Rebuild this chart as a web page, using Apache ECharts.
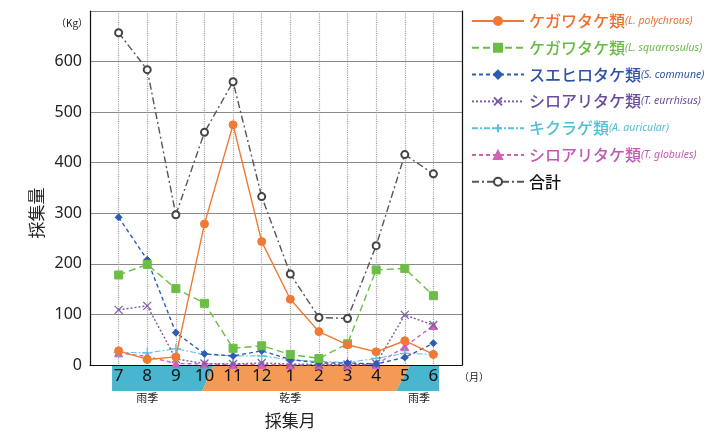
<!DOCTYPE html>
<html><head><meta charset="utf-8">
<script src="https://cdn.jsdelivr.net/npm/echarts@6/dist/echarts.min.js"></script>
<style>html,body{margin:0;padding:0;background:#fff}#c{width:713px;height:432px}</style>
</head><body><div id="c"></div>
<script>
const months = ['7','8','9','10','11','12','1','2','3','4','5','6'];
const yTicks = [0,100,200,300,400,500,600];
const seriesNames = ['ケガワタケ類(L. polychrous)','ケガワタケ類(L. squarrosulus)','スエヒロタケ類(S. commune)','シロアリタケ類(T. eurrhisus)','キクラゲ類(A. auricular)','シロアリタケ類(T. globules)','合計'];
const polychrous  = [28, 11, 16, 279, 475, 244, 130, 66, 40, 26, 48, 21];
const squarrosulus= [178, 199, 151, 122, 33, 38, 21, 13, 42, 188, 191, 137];
const commune     = [292, 208, 64, 22, 18, 28, 11, 4, 4, 2, 15, 43];
const eurrhisus   = [109, 117, 12, 3, 2, 4, 2, 1, 1, 3, 99, 79];
const auricular   = [25, 24, 32, 21, 18, 18, 10, 7, 5, 13, 23, 21];
const globules    = [24, 17, 3, 2, 1, 1, 0, 0, 0, 1, 36, 78];
const total       = [657, 584, 297, 460, 560, 333, 180, 94, 92, 236, 416, 378];
const seasons = ['雨季','乾季','雨季'];

const colors = ['#F07A35','#6CBD45','#2F5CB3','#7D5BA8','#55C2DD','#D062B6','#555555'];
const textColors = ['#EE6F2D','#6AB947','#2E52A6','#6A4C9C','#52BDD6','#C05BB3','#111111'];
const markers = ['circle','rect','diamond','emptyCircle','emptyCircle','triangle','emptyCircle'];
const dataSets = [polychrous, squarrosulus, commune, eurrhisus, auricular, globules, total];

const cats = [''].concat(months).concat(['']);
const pad = a => [null].concat(a).concat([null]);

const lineTypes = ['solid',[7,4],[4,3],[2,2],[6,2,2,2],[4,3],[7,3,2,3]];
const symbolSizes = [8,8,7,8,10,8,7];

const series = dataSets.map((d,i)=>{
  const s = {
    name: seriesNames[i], type:'line', data: pad(d),
    symbol: markers[i], symbolSize: symbolSizes[i], showSymbol:true,
    lineStyle:{color:colors[i], width: i===4?1:1.4, type: lineTypes[i]},
    itemStyle:{color: colors[i], borderColor: colors[i], borderWidth:1},
    connectNulls:false, z: 10-i
  };
  if (i===6) { s.itemStyle = {color:'#444', borderColor:'#444', borderWidth:1}; }
  if (i===3) { s.symbol = 'path://M0,0L10,10M10,0L0,10'; s.itemStyle = {color:'none', borderColor:colors[i], borderWidth:1.2}; }
  if (i===4) { s.symbol = 'path://M5,0L5,10M0,5L10,5'; s.itemStyle = {color:'none', borderColor:colors[i], borderWidth:1.2}; }
  return s;
});

const rich = {};
textColors.forEach((c,i)=>{
  rich['a'+i] = {color:c, fontSize:16, fontFamily:'Noto Sans CJK JP', fontWeight:500};
  rich['b'+i] = {color:c, fontSize:10.5, fontStyle:'italic', fontFamily:'Noto Sans'};
});

const chart = echarts.init(document.getElementById('c'));
chart.setOption({
  animation:false,
  backgroundColor:'#fff',
  grid:{left:90, right:251, top:11, bottom:67, containLabel:false},
  legend:{
    orient:'vertical', left:466, top:8, itemGap:10.8, itemWidth:52, itemHeight:10,
    data: seriesNames.map((n,i)=>({name:n})),
    formatter: name => {
      const i = seriesNames.indexOf(name);
      const p = name.indexOf('(');
      if (p<0) return '{a'+i+'|'+name+'}';
      return '{a'+i+'|'+name.slice(0,p)+'}{b'+i+'|'+name.slice(p)+'}';
    },
    textStyle:{rich}
  },
  xAxis:{
    type:'category', data:cats, boundaryGap:false,
    axisLine:{lineStyle:{color:'#111', width:1.2}},
    axisTick:{show:false},
    axisLabel:{interval:0, color:'#111', fontSize:17, margin:3, fontFamily:'Noto Sans'},
    splitLine:{show:true, lineStyle:{color:'#999', type:[1,1.2], width:1.2}}
  },
  yAxis:[{
    type:'value', min:0, max:700, interval:100,
    axisLine:{show:true, lineStyle:{color:'#111', width:1.2}},
    axisTick:{show:false},
    axisLabel:{color:'#222', fontSize:16, margin:8, fontFamily:'Noto Sans', formatter:v=> v===700?'':v},
    splitLine:{lineStyle:{color:'#8a8a8a', width:1}}
  },{
    type:'value', min:0, max:700, interval:100, position:'right',
    axisLine:{show:true, lineStyle:{color:'#111', width:1.2}},
    axisTick:{show:false}, axisLabel:{show:false}, splitLine:{show:false}
  }],
  series
});

function drawDecor(){
  const p1 = chart.convertToPixel({xAxisIndex:0}, 1);
  const p2 = chart.convertToPixel({xAxisIndex:0}, 2);
  const step = p2 - p1;
  const X = f => p1 + (f-1)*step;
  const y0 = chart.convertToPixel({yAxisIndex:0}, 0);
  const top = y0 + 0.5, bot = y0 + 26;
  const blue = '#47B6CE', orange = '#F59A55';
  const poly = (pts, c) => ({type:'polygon', shape:{points:pts}, style:{fill:c}, z:-1, silent:true});
  const txt = (x,y,t,fs,extra) => Object.assign({type:'text', x, y, style:{text:t, fontSize:fs, fill:'#222', fontFamily:'Noto Sans CJK JP', align:'center', verticalAlign:'middle'}, z:5}, extra||{});
  chart.setOption({graphic:[
    poly([[X(0.77),top],[X(4.32),top],[X(3.92),bot],[X(0.77),bot]], blue),
    poly([[X(4.32),top],[X(11.18),top],[X(10.7),bot],[X(3.92),bot]], orange),
    poly([[X(11.18),top],[X(12.2),top],[X(12.2),bot],[X(10.7),bot]], blue),
    txt(X(2), bot+7, seasons[0], 11),
    txt(X(7), bot+7, seasons[1], 11),
    txt(X(11.5), bot+7, seasons[2], 11),
    txt(X(7), bot+30, '採集月', 17),
    txt(X(13)+12, y0+12, '（月）', 10),
    txt(72, 23, '（Kg）', 10),
    txt(37, 213, '採集量', 17, {rotation:Math.PI/2})
  ]});
}
drawDecor();
</script>
</body></html>
